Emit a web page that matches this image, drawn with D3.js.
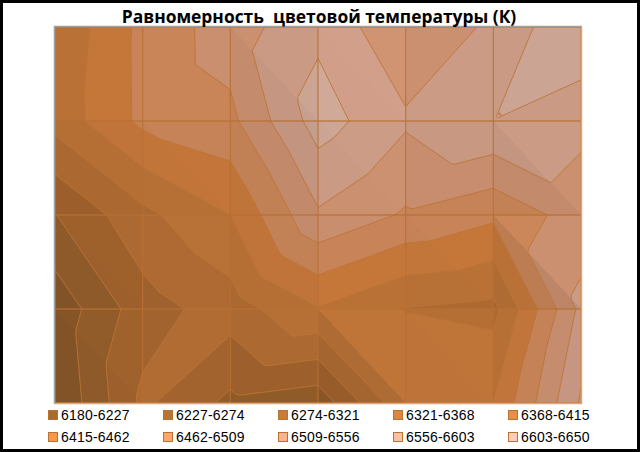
<!DOCTYPE html>
<html>
<head>
<meta charset="utf-8">
<script src="https://cdn.jsdelivr.net/npm/d3@7"></script>
<style>
  html, body { margin: 0; padding: 0; background: #fff; }
  svg { display: block; }
</style>
</head>
<body>
<div id="chart"></div>
<script>
const titleText = "Равномерность  цветовой температуры (К)"

// surface values, one row per horizontal grid line
const row0 = [6376, 6474, 6533, 6592, 6517, 6565, 6648]
const row1 = [6385, 6473, 6497, 6625, 6563, 6602, 6568]
const row2 = [6272, 6355, 6415, 6550, 6503, 6472, 6532]
const row3 = [6195, 6300, 6344, 6412, 6366, 6354, 6568]
const row4 = [6181, 6331, 6262, 6242, 6406, 6416, 6609]
const surface = [row0, row1, row2, row3, row4]

// how the surface splits each cell in two triangles
const cellSplit = ["//\\\\//", "\\\\/\\/\\", "\\//\\\\\\", "\\//\\\\/"]

const levels = [6180, 6227, 6274, 6321, 6368, 6415, 6462, 6509, 6556, 6603]
const levelTop = 6650
const bandColors = ["#a76b32", "#b77435", "#c97b39", "#dc8640", "#e98f45",
                    "#f8964a", "#fca66f", "#fcb38b", "#fdc0a6", "#fdcdb9"]

const width = 640, height = 452
const plot = {left: 55, right: 581, top: 27, bottom: 403}
const nCols = row0.length, nRows = surface.length
const fine = 20

const x = d3.scaleLinear().domain([0, nCols - 1]).range([plot.left, plot.right])
const y = d3.scaleLinear().domain([0, nRows - 1]).range([plot.top, plot.bottom])

const svg = d3.select("#chart").append("svg")
    .attr("width", width)
    .attr("height", height)

svg.append("defs").append("clipPath").attr("id", "plot-clip")
    .append("rect")
    .attr("x", plot.left).attr("y", plot.top)
    .attr("width", plot.right - plot.left)
    .attr("height", plot.bottom - plot.top)

// value of the triangulated surface at column/row position
function surfaceAt(c, r) {
    const ci = Math.min(Math.floor(c), nCols - 2), ri = Math.min(Math.floor(r), nRows - 2)
    const u = c - ci, v = r - ri
    const a = surface[ri][ci], b = surface[ri][ci + 1]
    const d = surface[ri + 1][ci], e = surface[ri + 1][ci + 1]
    if (cellSplit[ri][ci] === "\\") {
        return u >= v ? a + (b - a) * u + (e - b) * v : a + (e - d) * u + (d - a) * v
    }
    return u + v <= 1 ? a + (b - a) * u + (d - a) * v : e + (d - e) * (1 - u) + (b - e) * (1 - v)
}

const nx = (nCols - 1) * fine + 1, ny = (nRows - 1) * fine + 1
const samples = new Array(nx * ny)
for (let j = 0; j < ny; j++) {
    for (let i = 0; i < nx; i++) {
        samples[j * nx + i] = surfaceAt(i / fine, j / fine)
    }
}

const bands = d3.contours().size([nx, ny]).thresholds(levels)(samples)

// d3.contours puts sample i at i + 0.5
const toPlot = d3.geoTransform({
    point: function(px, py) {
        this.stream.point(x((px - 0.5) / fine), y((py - 0.5) / fine))
    }
})
const bandPath = d3.geoPath(toPlot)

const chart = svg.append("g").attr("clip-path", "url(#plot-clip)")

chart.append("rect")
    .attr("x", plot.left).attr("y", plot.top)
    .attr("width", plot.right - plot.left)
    .attr("height", plot.bottom - plot.top)
    .attr("fill", bandColors[0])

chart.selectAll(".band")
    .data(bands)
    .enter().append("path")
    .attr("class", "band")
    .attr("d", bandPath)
    .attr("fill", (d, i) => bandColors[i])

// facets: each triangle is shaded by how it faces the light
const facets = []
for (let r = 0; r < nRows - 1; r++) {
    for (let c = 0; c < nCols - 1; c++) {
        const a = [c, r], b = [c + 1, r], d = [c, r + 1], e = [c + 1, r + 1]
        const tris = cellSplit[r][c] === "\\" ? [[a, b, e], [a, e, d]] : [[a, b, d], [b, e, d]]
        tris.forEach(function(t) {
            const z = t.map(p => surface[p[1]][p[0]])
            const det = (t[1][0] - t[0][0]) * (t[2][1] - t[0][1]) - (t[2][0] - t[0][0]) * (t[1][1] - t[0][1])
            const dzdx = ((z[1] - z[0]) * (t[2][1] - t[0][1]) - (z[2] - z[0]) * (t[1][1] - t[0][1])) / det
            const dzdy = ((z[2] - z[0]) * (t[1][0] - t[0][0]) - (z[1] - z[0]) * (t[2][0] - t[0][0])) / det
            const light = Math.max(0.72, Math.min(0.83, 0.81 - 0.00017 * (dzdx - dzdy)))
            facets.push({points: t, shade: 1 - light})
        })
    }
}

const facetLine = d3.line().x(p => x(p[0])).y(p => y(p[1]))

chart.selectAll(".facet")
    .data(facets)
    .enter().append("path")
    .attr("class", "facet")
    .attr("d", d => facetLine(d.points) + "Z")
    .attr("fill", "#000")
    .attr("fill-opacity", d => d.shade)
    .attr("shape-rendering", "crispEdges")

chart.selectAll(".level-line")
    .data(bands.slice(1))
    .enter().append("path")
    .attr("class", "level-line")
    .attr("d", bandPath)
    .attr("fill", "none")
    .attr("stroke", "#bb7435")
    .attr("stroke-width", 1)
    .attr("stroke-linejoin", "round")
    .attr("stroke-opacity", 0.9)

// grid lines on the surface nodes
chart.selectAll(".grid-x")
    .data(d3.range(nCols))
    .enter().append("line")
    .attr("class", "grid-x")
    .attr("x1", d => x(d)).attr("x2", d => x(d))
    .attr("y1", plot.top).attr("y2", plot.bottom)
    .attr("stroke", "#b87033").attr("stroke-width", 1.2).attr("stroke-opacity", 0.85)

chart.selectAll(".grid-y")
    .data(d3.range(nRows))
    .enter().append("line")
    .attr("class", "grid-y")
    .attr("x1", plot.left).attr("x2", plot.right)
    .attr("y1", d => y(d)).attr("y2", d => y(d))
    .attr("stroke", "#b87033").attr("stroke-width", 1.5).attr("stroke-opacity", 0.8)

// plot edges
svg.append("path")
    .attr("d", `M${plot.left - 0.5},${plot.bottom + 1}V${plot.top - 0.5}H${plot.right + 1}`)
    .attr("fill", "none").attr("stroke", "#a0a0a0").attr("stroke-width", 1.5)

svg.append("path")
    .attr("d", `M${plot.left},${plot.bottom + 0.5}H${plot.right + 0.5}V${plot.top}`)
    .attr("fill", "none").attr("stroke", "#dfa67c").attr("stroke-width", 1.5)

svg.append("text")
    .attr("x", 319).attr("y", 23)
    .attr("text-anchor", "middle")
    .attr("font-family", "'Open Sans', sans-serif")
    .attr("font-size", 17.4)
    .attr("font-weight", 700)
    .attr("fill", "#000")
    .attr("xml:space", "preserve")
    .style("white-space", "pre")
    .text(titleText)

// legend, five columns by two rows
const legendRange = levels.map((d, i) => d + "-" + (i + 1 < levels.length ? levels[i + 1] : levelTop))

const legend = svg.selectAll(".legend-item")
    .data(legendRange)
    .enter().append("g")
    .attr("class", "legend-item")
    .attr("transform", (d, i) => `translate(${48 + (i % 5) * 115},${410 + Math.floor(i / 5) * 22})`)

legend.append("rect")
    .attr("x", 0.5).attr("y", 0.5)
    .attr("width", 9).attr("height", 9)
    .attr("fill", (d, i) => bandColors[i])
    .attr("stroke", "#b87333")
    .attr("stroke-width", 1)

legend.append("text")
    .attr("x", 13).attr("y", 10)
    .attr("font-family", "'Liberation Sans', sans-serif")
    .attr("font-size", 14)
    .attr("letter-spacing", 0.2)
    .attr("fill", "#000")
    .text(d => d)

// black picture frame
svg.append("rect")
    .attr("x", 1.5).attr("y", 1.5)
    .attr("width", width - 3).attr("height", height - 3)
    .attr("fill", "none")
    .attr("stroke", "#000")
    .attr("stroke-width", 3)
</script>
</body>
</html>
